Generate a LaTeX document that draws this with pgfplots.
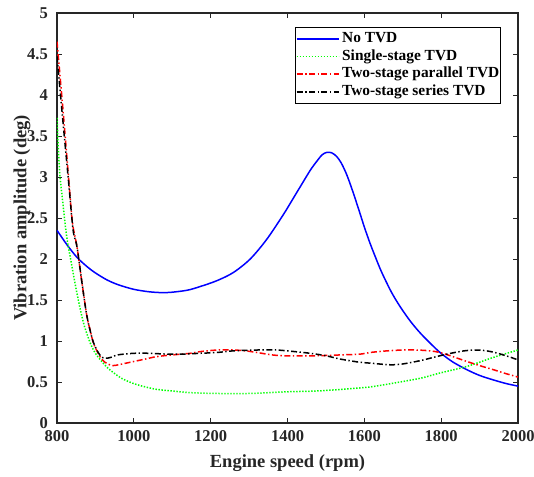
\documentclass[border=0pt]{standalone}
\usepackage{fontspec}
\setmainfont{Liberation Serif}
\usepackage{pgfplots}
\pgfplotsset{compat=1.18}
\definecolor{axgray}{rgb}{0.15,0.15,0.15}
\begin{document}
\begin{tikzpicture}
\begin{axis}[
 name=ax,
 scale only axis, width=461pt, height=410pt,
 xmin=800, xmax=2000, ymin=0, ymax=5,
 xtick={800,1000,1200,1400,1600,1800,2000},
 ytick={0,0.5,1,1.5,2,2.5,3,3.5,4,4.5,5},
 yticklabels={0,0.5,1,1.5,2,2.5,3,3.5,4,4.5,5},
 xticklabels={800,1000,1200,1400,1600,1800,2000},
 tick align=inside, xtick pos=both, ytick pos=both,
 major tick length=5pt,
 axis line style={axgray, line width=1.1pt},
 every tick/.style={axgray, line width=0.9pt},
 tick label style={font=\fontsize{16.5}{18}\selectfont\bfseries, text=axgray, inner sep=0pt},
 yticklabel style={xshift=-9pt},
 xticklabel style={yshift=-7pt},
 /pgf/number format/assume math mode=true,
 xlabel={Engine speed (rpm)}, ylabel={Vibration amplitude (deg)},
 label style={font=\fontsize{18.5}{20}\selectfont\bfseries, text=axgray},
 xlabel style={at={(axis description cs:0.5,-0.0976)}, anchor=center},
 ylabel style={at={(axis description cs:-0.076,0.5)}, anchor=center},
 legend style={at={(1,1)}, anchor=north east, xshift=-17pt, yshift=-14pt,
   font=\fontsize{15.4}{16}\selectfont\bfseries, draw=black, line width=0.8pt,
   row sep=1.6pt, column sep=2pt,
   nodes={inner sep=0.8pt, text height=11pt, text depth=3.5pt},
   inner xsep=0.5pt, inner ysep=3.4pt},
 legend cell align=left,
 legend image code/.code={\draw[#1] (7pt,0pt) -- (49pt,0pt);},
 every axis plot/.append style={smooth, tension=0.5},
]
\addplot[blue, line width=1.5pt] coordinates {
(800,2.35)(825,2.18)(852,2.02)(880,1.90)(900,1.83)(930,1.745)(960,1.685)(1000,1.63)
(1040,1.60)(1073,1.59)(1100,1.595)(1140,1.62)(1172,1.663)(1216,1.735)(1259,1.835)
(1303,2.00)(1346,2.24)(1389,2.54)(1415,2.74)(1433,2.88)(1459,3.08)(1476,3.19)
(1490,3.27)(1502,3.30)(1515,3.295)(1528,3.25)(1540,3.17)(1554,3.03)(1568,2.85)
(1585,2.61)(1600,2.39)(1615,2.19)(1630,2.01)(1645,1.84)(1670,1.60)(1693,1.42)
(1720,1.24)(1745,1.10)(1770,0.98)(1797,0.86)(1830,0.745)(1867,0.65)(1900,0.58)
(1936,0.525)(1970,0.48)(2000,0.45)};
\addlegendentry{No TVD}
\addplot[green, line width=1.5pt, dash pattern=on 1.4pt off 1.6pt] coordinates {
(800,3.72)(804,3.3)(808,3.0)(816,2.65)(825,2.28)(835,2.01)(852,1.58)(869,1.22)
(887,0.97)(900,0.85)(913,0.77)(930,0.68)(948,0.61)(970,0.54)(1000,0.48)(1030,0.44)
(1060,0.41)(1100,0.39)(1147,0.37)(1217,0.36)(1300,0.36)(1400,0.38)(1476,0.39)
(1540,0.41)(1615,0.44)(1693,0.50)(1750,0.55)(1797,0.61)(1867,0.69)(1936,0.80)(2000,0.89)};
\addlegendentry{Single-stage TVD}
\addplot[red, line width=1.5pt, dash pattern=on 6pt off 2.5pt on 1.4pt off 2.5pt] coordinates {
(800,4.65)(815,3.85)(830,3.0)(840,2.45)(852,2.15)(865,1.71)(878,1.30)(887,1.12)
(895,0.97)(905,0.87)(913,0.80)(925,0.74)(943,0.70)(960,0.71)(980,0.73)(1000,0.75)
(1030,0.78)(1060,0.81)(1100,0.83)(1147,0.85)(1172,0.87)(1217,0.89)(1259,0.89)
(1290,0.88)(1320,0.86)(1360,0.83)(1389,0.82)(1430,0.82)(1476,0.82)(1537,0.83)
(1589,0.84)(1615,0.86)(1660,0.88)(1700,0.89)(1737,0.89)(1770,0.88)(1797,0.86)
(1830,0.81)(1867,0.75)(1900,0.70)(1936,0.65)(1970,0.60)(2000,0.56)};
\addlegendentry{Two-stage parallel TVD}
\addplot[black, line width=1.5pt, dash pattern=on 6pt off 2.5pt on 1.4pt off 2.5pt] coordinates {
(800,4.47)(815,3.7)(830,2.95)(842,2.35)(852,2.15)(865,1.71)(878,1.30)(895,0.98)
(913,0.82)(926,0.79)(940,0.80)(957,0.83)(1000,0.85)(1040,0.85)(1086,0.84)(1130,0.84)
(1172,0.85)(1217,0.86)(1259,0.88)(1320,0.89)(1372,0.89)(1420,0.87)(1459,0.85)
(1500,0.82)(1537,0.78)(1589,0.74)(1615,0.73)(1667,0.71)(1700,0.72)(1745,0.76)
(1780,0.80)(1815,0.84)(1860,0.88)(1897,0.89)(1930,0.87)(1962,0.83)(2000,0.77)};
\addlegendentry{Two-stage series TVD}
\end{axis}
\pgfresetboundingbox
\path ([xshift=-57pt,yshift=-54pt]ax.south west) rectangle ([xshift=16pt,yshift=13pt]ax.north east);
\end{tikzpicture}
\end{document}
